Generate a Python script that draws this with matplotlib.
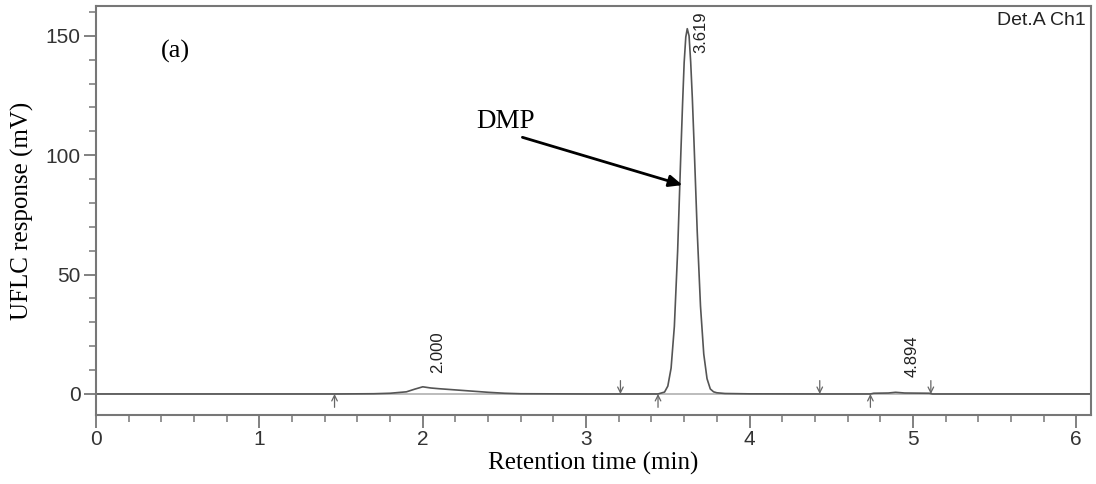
import numpy as np
import matplotlib
matplotlib.use("Agg")
import matplotlib.pyplot as plt
from matplotlib.ticker import MultipleLocator

# chromatogram trace (min, mV)
time_min = [0.0, 1.0, 1.47, 1.70, 1.80, 1.90, 1.95, 2.00, 2.05, 2.10, 2.20, 2.30,
            2.40, 2.50, 2.60, 3.00, 3.44, 3.48, 3.50, 3.52, 3.54, 3.56, 3.58,
            3.59, 3.60, 3.61, 3.619, 3.63, 3.64, 3.65, 3.66, 3.68, 3.70, 3.72,
            3.74, 3.76, 3.78, 3.80, 3.85, 4.00, 4.43, 4.74, 4.76, 4.85, 4.894,
            4.95, 5.10, 5.12, 6.09]
response_mv = [0.0, 0.0, 0.0, 0.1, 0.3, 0.9, 2.0, 3.0, 2.5, 2.2, 1.7, 1.2,
               0.7, 0.3, 0.1, 0.0, 0.0, 0.8, 3.3, 10.8, 28.3, 59.7, 101.4,
               121.0, 138.8, 149.5, 153.0, 150.0, 139.0, 124.0, 106.0, 68.0,
               36.8, 16.7, 6.4, 2.1, 0.9, 0.5, 0.2, 0.05, 0.0, 0.0, 0.3, 0.4,
               0.7, 0.4, 0.3, 0.0, 0.0]

peak_labels = ["2.000", "3.619", "4.894"]
peak_label_pos = [(2.088, 8.8), (3.705, 142.9), (4.997, 7.1)]

start_marks = [1.46, 3.44, 4.74]   # up arrows
end_marks = [3.21, 4.43, 5.11]     # down arrows

fig = plt.figure(figsize=(10.96, 4.84), dpi=100)
ax = fig.add_axes([0.0876, 0.1426, 0.9078, 0.845])

ax.axhline(0, color="#b0b0b0", lw=1.2, zorder=1)
ax.plot(time_min, response_mv, color="#555555", lw=1.2, zorder=2)

for t in start_marks:
    ax.annotate("", xy=(t, 0), xytext=(t, -5.6),
                arrowprops=dict(arrowstyle="->", color="#666666", lw=0.9,
                                shrinkA=0, shrinkB=0))
for t in end_marks:
    ax.annotate("", xy=(t, 0), xytext=(t, 5.6),
                arrowprops=dict(arrowstyle="->", color="#666666", lw=0.9,
                                shrinkA=0, shrinkB=0))

for lab, (px, py) in zip(peak_labels, peak_label_pos):
    ax.text(px, py, lab, rotation=90, ha="center", va="bottom",
            fontsize=12, family="Liberation Sans", color="#222222")

ax.text(0.995, 0.985, "Det.A Ch1", transform=ax.transAxes, ha="right", va="top",
        fontsize=14, family="Liberation Sans", color="#222222")
ax.text(0.065, 0.89, "(a)", transform=ax.transAxes, ha="left", va="center",
        fontsize=19, family="Liberation Serif")
ax.text(2.33, 114, "DMP", ha="left", va="center", fontsize=19.5,
        family="Liberation Serif")
ax.annotate("", xy=(3.59, 87.5), xytext=(2.61, 107.5),
            arrowprops=dict(arrowstyle="-|>,head_length=0.8,head_width=0.35",
                            color="black", lw=2, shrinkA=0, shrinkB=0))

ax.set_xlim(0, 6.09)
ax.set_ylim(-8.8, 162.5)
ax.xaxis.set_major_locator(MultipleLocator(1))
ax.xaxis.set_minor_locator(MultipleLocator(0.2))
ax.yaxis.set_major_locator(MultipleLocator(50))
ax.yaxis.set_minor_locator(MultipleLocator(10))

for s in ax.spines.values():
    s.set_color("#777777")
    s.set_linewidth(1.5)
ax.tick_params(which="major", length=9, width=1.3, color="#777777",
               labelsize=15, labelcolor="#333333", pad=2)
ax.tick_params(which="minor", length=5, width=1.1, color="#777777")
for lab in ax.get_xticklabels() + ax.get_yticklabels():
    lab.set_family("Liberation Sans")

ax.set_xlabel("Retention time (min)", fontsize=18, family="Liberation Serif",
              labelpad=2)
ax.set_ylabel("UFLC response (mV)", fontsize=18, family="Liberation Serif",
              labelpad=8)

fig.savefig("out.png", dpi=100)
